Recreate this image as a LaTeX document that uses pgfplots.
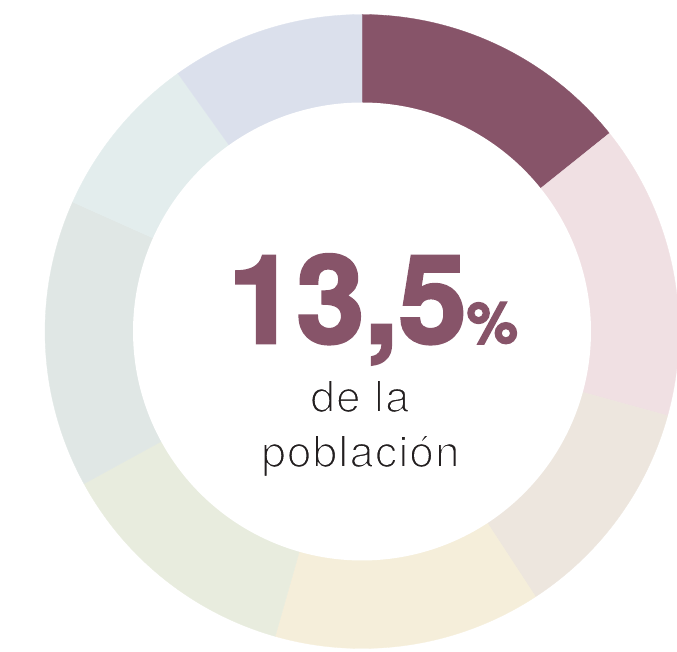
\documentclass[border=0pt]{standalone}
\usepackage{pgfplots}
\pgfplotsset{compat=1.18}
\usepackage{fontspec}
\setmainfont{TeX Gyre Heros}
\newfontfamily\heavyfont{TeX Gyre Heros}[BoldFeatures={FakeBold=2.4}]
\newfontfamily\lightfont{TeX Gyre Heros}[FakeBold=3.5, LetterSpace=3]
\definecolor{c1}{HTML}{875469}
\definecolor{c2}{HTML}{F0E0E3}
\definecolor{c3}{HTML}{EDE6DE}
\definecolor{c4}{HTML}{F5EEDA}
\definecolor{c5}{HTML}{E8ECDE}
\definecolor{c6}{HTML}{E0E7E5}
\definecolor{c7}{HTML}{E3EDED}
\definecolor{c8}{HTML}{DBE0EC}
\definecolor{txt}{HTML}{231F20}
\newcommand{\thin}[1]{\special{pdf:bcolor [0.137 0.122 0.125] [1 1 1]}#1\special{pdf:ecolor}}
\begin{document}
\begin{tikzpicture}
\begin{axis}[
  scale only axis, width=677bp, height=652bp,
  xmin=-362, xmax=315, ymin=-320.5, ymax=331.5,
  hide axis, clip=true,
]
% segment boundaries (degrees clockwise from top), outer radius 317, inner 229
\addplot[fill=c1, draw=c1, line width=0.3pt, domain=0:51.3, samples=60] ({317*sin(x)},{317*cos(x)}) -- (axis cs:0,0) -- cycle;
\addplot[fill=c2, draw=c2, line width=0.3pt, domain=51.3:105.4, samples=60] ({317*sin(x)},{317*cos(x)}) -- (axis cs:0,0) -- cycle;
\addplot[fill=c3, draw=c3, line width=0.3pt, domain=105.4:146.8, samples=60] ({317*sin(x)},{317*cos(x)}) -- (axis cs:0,0) -- cycle;
\addplot[fill=c4, draw=c4, line width=0.3pt, domain=146.8:195.9, samples=60] ({317*sin(x)},{317*cos(x)}) -- (axis cs:0,0) -- cycle;
\addplot[fill=c5, draw=c5, line width=0.3pt, domain=195.9:241.3, samples=60] ({317*sin(x)},{317*cos(x)}) -- (axis cs:0,0) -- cycle;
\addplot[fill=c6, draw=c6, line width=0.3pt, domain=241.3:294.1, samples=60] ({317*sin(x)},{317*cos(x)}) -- (axis cs:0,0) -- cycle;
\addplot[fill=c7, draw=c7, line width=0.3pt, domain=294.1:324.5, samples=60] ({317*sin(x)},{317*cos(x)}) -- (axis cs:0,0) -- cycle;
\addplot[fill=c8, draw=c8, line width=0.3pt, domain=324.5:360, samples=60] ({317*sin(x)},{317*cos(x)}) -- (axis cs:0,0) -- cycle;
\addplot[fill=white, draw=none, domain=0:360, samples=240] ({229*sin(x)},{229*cos(x)}) -- cycle;
\node[anchor=base west, inner sep=0pt, text=c1] at (axis cs:-134,-11.5)
  {\heavyfont\bfseries\fontsize{123}{123}\selectfont 13,5\fontsize{58}{58}\selectfont\%};
\node[anchor=base, inner sep=0pt, text=txt] at (axis cs:-2,-80.5)
  {\lightfont\fontsize{44}{44}\selectfont\thin{de la}};
\node[anchor=base, inner sep=0pt, text=txt] at (axis cs:-1.5,-135.5)
  {\lightfont\fontsize{44}{44}\selectfont\thin{población}};
\end{axis}
\pgfresetboundingbox
\path (current axis.south west) rectangle (current axis.north east);
\end{tikzpicture}
\end{document}
